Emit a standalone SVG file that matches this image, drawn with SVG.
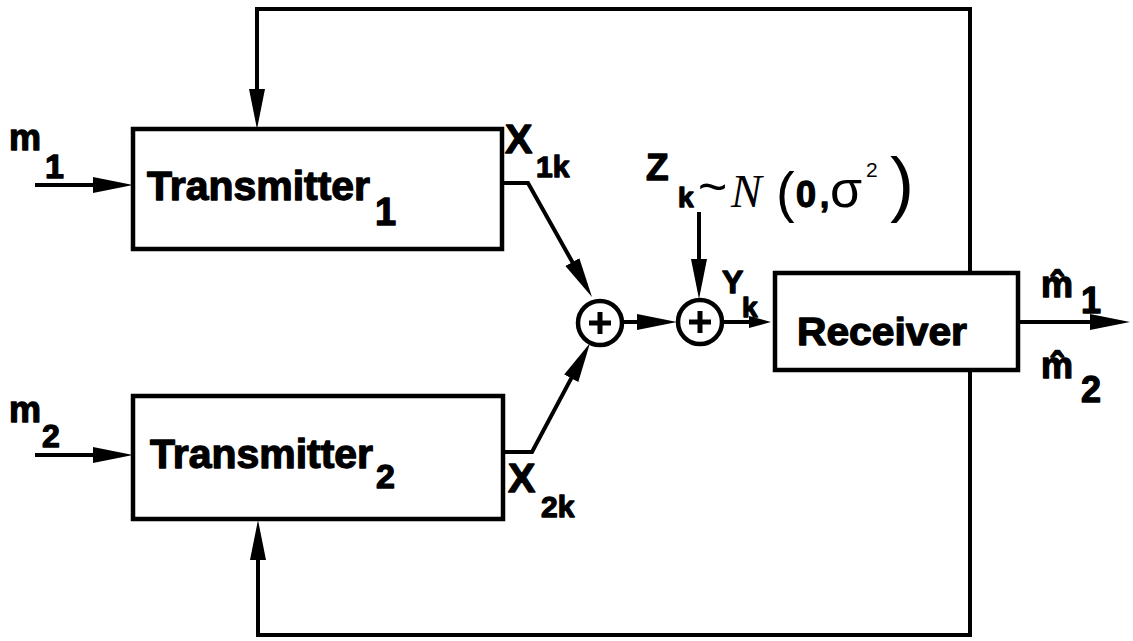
<svg xmlns="http://www.w3.org/2000/svg" width="1133" height="641" viewBox="0 0 1133 641">
<style>
.ln{fill:none;stroke:#000;stroke-width:4;stroke-linejoin:miter}
.bx{fill:#fff;stroke:#000;stroke-width:4.5}
.t{font-family:"Liberation Sans",Arial,sans-serif;font-weight:bold;fill:#000;stroke:#000;stroke-width:1.3;stroke-linejoin:round}
.n{font-family:"Liberation Sans",Arial,sans-serif;font-weight:normal;fill:#000}
.s{font-family:"Liberation Serif","Times New Roman",serif;font-style:italic;fill:#000}
</style>
<defs>
<marker id="ah" markerUnits="userSpaceOnUse" markerWidth="44" markerHeight="20" viewBox="0 -10 44 20" refX="28" refY="0" orient="auto">
<path d="M0,-8 L40,0 L0,8 z" fill="#000"/>
</marker>
<marker id="ahs" markerUnits="userSpaceOnUse" markerWidth="26" markerHeight="16" viewBox="0 -8 26 16" refX="14" refY="0" orient="auto">
<path d="M0,-6 L22,0 L0,6 z" fill="#000"/>
</marker>
</defs>
<rect width="1133" height="641" fill="#fff"/>
<g id="connectors">
<path class="ln" d="M35,185 H121" marker-end="url(#ah)"/>
<path class="ln" d="M35,455 H121" marker-end="url(#ah)"/>
<path class="ln" d="M970,273 V9 H257 V117" marker-end="url(#ah)"/>
<path class="ln" d="M970,370 V635 H258 V532" marker-end="url(#ah)"/>
<path class="ln" d="M502,183 H528 L586.1,286.5" marker-end="url(#ah)"/>
<path class="ln" d="M503,452 H532 L584.4,353.6" marker-end="url(#ah)"/>
<path class="ln" d="M623,322 H665" marker-end="url(#ah)"/>
<path class="ln" d="M699,212 V287" marker-end="url(#ah)"/>
<path class="ln" d="M723,322 H763" marker-end="url(#ahs)"/>
<path class="ln" d="M1018,322 H1118" marker-end="url(#ah)"/>
</g>
<g id="tx1">
<rect class="bx" x="133" y="129" width="369" height="120"/>
<text class="t" x="147" y="200" font-size="40" textLength="223" lengthAdjust="spacingAndGlyphs">Transmitter</text>
<text class="t" x="375" y="225" font-size="38">1</text>
</g>
<g id="tx2">
<rect class="bx" x="133" y="396" width="370" height="123"/>
<text class="t" x="150" y="468" font-size="40" textLength="223" lengthAdjust="spacingAndGlyphs">Transmitter</text>
<text class="t" x="376" y="488" font-size="34">2</text>
</g>
<g id="receiver">
<rect class="bx" x="775" y="273" width="243" height="97"/>
<text class="t" x="797" y="345" font-size="39" textLength="170" lengthAdjust="spacingAndGlyphs">Receiver</text>
</g>
<g id="adder1">
<circle cx="600" cy="323" r="22" fill="#fff" stroke="#000" stroke-width="4.5"/>
<path d="M589,323 H611 M600,312 V334" stroke="#000" stroke-width="5"/>
</g>
<g id="adder2">
<circle cx="700" cy="322" r="22" fill="#fff" stroke="#000" stroke-width="4.5"/>
<path d="M689,322 H711 M700,311 V333" stroke="#000" stroke-width="5"/>
</g>
<g id="labels">
<text class="t" x="9" y="150" font-size="36">m</text>
<text class="t" x="45" y="178" font-size="34">1</text>
<text class="t" x="9" y="422" font-size="36">m</text>
<text class="t" x="42" y="447" font-size="32">2</text>
<text class="t" x="505" y="153" font-size="41">X</text>
<text class="t" x="536" y="177" font-size="30">1k</text>
<text class="t" x="508" y="492" font-size="41">X</text>
<text class="t" x="541" y="517" font-size="30">2k</text>
<text class="t" x="646" y="180" font-size="37">Z</text>
<text class="t" x="678" y="207" font-size="28">k</text>
<text class="n" x="698" y="204" font-size="50">~</text>
<text class="s" x="731" y="207" font-size="46">N</text>
<text class="n" x="776" y="211" font-size="56">(</text>
<text class="t" x="796" y="207" font-size="36">0</text>
<text class="t" x="820" y="207" font-size="33">,</text>
<text class="n" x="830" y="207" font-size="52">σ</text>
<text class="n" x="866" y="177" font-size="21">2</text>
<text class="n" x="890" y="208" font-size="72">)</text>
<text class="t" x="722" y="293" font-size="32">Y</text>
<text class="t" x="742" y="317" font-size="28">k</text>
<text class="t" x="1041" y="297" font-size="36">m̂</text>
<text class="t" x="1081" y="313" font-size="36">1</text>
<text class="t" x="1041" y="378" font-size="36">m̂</text>
<text class="t" x="1081" y="402" font-size="36">2</text>
</g>
</svg>
